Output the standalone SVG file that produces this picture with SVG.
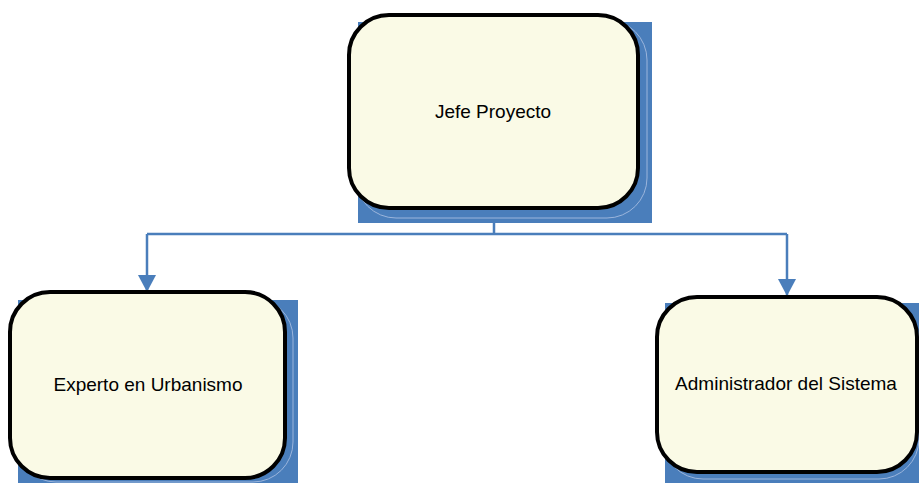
<svg xmlns="http://www.w3.org/2000/svg" width="919" height="483" viewBox="0 0 919 483">
<defs>
<style>
.shadow{fill:#4a7ebb}
.shline{fill:none;stroke:#9bb5dc;stroke-width:1}
.box{fill:#fafae6;stroke:#000;stroke-width:4}
.lbl{font-family:"Liberation Sans",Arial,sans-serif;font-size:19px;fill:#000;text-anchor:middle}
.conn{fill:none;stroke:#4a7ebb;stroke-width:2.5}
</style>
<marker id="arr" viewBox="0 0 10 10" refX="10" refY="5" markerWidth="6.8" markerHeight="6.8" markerUnits="userSpaceOnUse" orient="auto">
<path d="M0,0 L10,5 L0,10 Z" fill="#4a7ebb"/>
</marker>
</defs>
<rect width="919" height="483" fill="#fff"/>
<g id="connectors">
<path class="conn" d="M494,208 V234 M147,234 H787"/>
<path d="M147,234 V292" class="conn"/>
<path d="M787,234 V296" class="conn"/>
<polygon points="138,275 156,275 147,292" fill="#4a7ebb"/>
<polygon points="778,279 796,279 787,296" fill="#4a7ebb"/>
</g>
<g id="node-jefe">
<rect class="shadow" x="358" y="22" width="294" height="201"/>
<rect class="shline" x="356" y="20" width="291" height="198" rx="40"/>
<rect class="box" x="349" y="15" width="289" height="193" rx="40"/>
<text class="lbl" x="493" y="118">Jefe Proyecto</text>
</g>
<g id="node-experto">
<rect class="shadow" x="18" y="300" width="280" height="183"/>
<rect class="shline" x="16" y="298" width="277" height="184" rx="40"/>
<rect class="box" x="10" y="292" width="275" height="186" rx="40"/>
<text class="lbl" x="148" y="391">Experto en Urbanismo</text>
</g>
<g id="node-admin">
<rect class="shadow" x="665" y="303" width="254" height="180"/>
<rect class="shline" x="663" y="301" width="256" height="178" rx="40"/>
<rect class="box" x="657" y="297" width="260" height="175" rx="40"/>
<text class="lbl" x="786" y="390">Administrador del Sistema</text>
</g>
</svg>
